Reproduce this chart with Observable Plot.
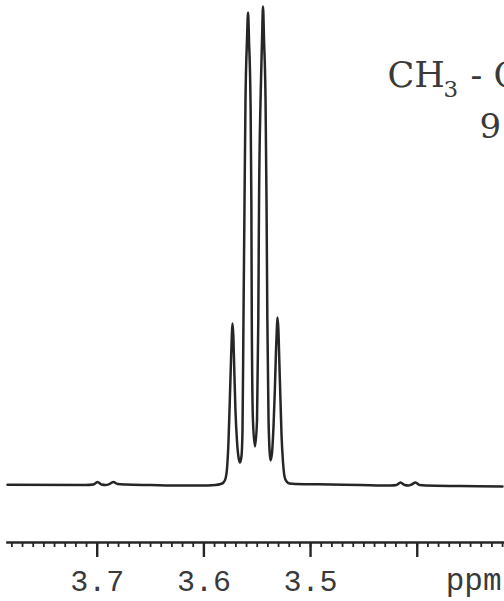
<!DOCTYPE html>
<html>
<head>
<meta charset="utf-8">
<script src="https://cdn.jsdelivr.net/npm/d3@7"></script>
<script src="https://cdn.jsdelivr.net/npm/@observablehq/plot@0.6"></script>
<style>
  html, body { margin: 0; padding: 0; background: #fff; }
  #chart svg { display: block; }
</style>
</head>
<body>
<div id="chart"></div>
<script>
// Chemical shift (ppm) and signal intensity (arbitrary units)
const ppm = [
  3.7841, 3.7110, 3.7035, 3.6997, 3.6960, 3.6922, 3.6885, 3.6847, 3.6810, 3.6735,
  3.6500, 3.6219, 3.6032, 3.5891, 3.5844, 3.5816, 3.5797, 3.5783, 3.5769, 3.5757,
  3.5746, 3.5738, 3.5732, 3.5724, 3.5715, 3.5704, 3.5690, 3.5675, 3.5661, 3.5647,
  3.5638, 3.5629, 3.5619, 3.5610, 3.5596, 3.5586, 3.5577, 3.5563, 3.5555, 3.5551,
  3.5540, 3.5521, 3.5502, 3.5490, 3.5483, 3.5469, 3.5455, 3.5446, 3.5436, 3.5422,
  3.5413, 3.5405, 3.5394, 3.5375, 3.5361, 3.5347, 3.5335, 3.5324, 3.5316, 3.5310,
  3.5302, 3.5293, 3.5282, 3.5272, 3.5258, 3.5244, 3.5225, 3.5197, 3.5141, 3.4813,
  3.4532, 3.4250, 3.4194, 3.4157, 3.4119, 3.4082, 3.4054, 3.4016, 3.3979, 3.3922,
  3.3594, 3.3201
];
const intensity = [
  -0.3, -0.5, 0, 2.5, 0, -0.5, 0.5, 2.5, 0.5, 0,
  -0.5, -1, -1, -0.5, 0.5, 2, 6, 16, 44, 84,
  124, 149, 161, 149, 114, 74, 44, 27, 22, 29,
  54, 164, 284, 384, 444, 472, 444, 384, 284, 164,
  64, 38, 64, 164, 284, 384, 444, 478, 444, 384,
  284, 164, 64, 24, 32, 59, 94, 134, 156, 167,
  156, 124, 84, 49, 22, 8, 3, 1, 0.5, 0,
  -0.5, -1, -0.5, 2, -0.5, -1, 0, 2, -0.5, -1,
  -1.5, -2
];
const majorTicks = [3.7, 3.6, 3.5, 3.4];
const majorLabels = ["3.7", "3.6", "3.5", ""];
const minorTicks = d3.range(332, 379).map(d => d / 100);
const unitLabel = ["ppm"];
const formulaMain = ["CH"];
const formulaSub = ["3"];
const formulaRest = ["- C"];
const formulaLine2 = ["9"];

const spectrum = ppm.map((p, i) => ({ppm: p, intensity: intensity[i]}));
const labelOf = new Map(majorTicks.map((t, i) => [t, majorLabels[i]]));

const ink = "#262626";
const textInk = "#3a3a3a";
const serif = "DejaVu Serif, Liberation Serif, serif";
const mono = "Liberation Mono, Courier New, monospace";

const chart = Plot.plot({
  width: 504,
  height: 601,
  marginLeft: 7,
  marginRight: 0,
  marginTop: 0,
  marginBottom: 59,
  style: {background: "#fff", color: ink},
  x: {domain: [3.7841, 3.3182], axis: null},
  y: {domain: [-58, 484], axis: null},
  marks: [
    Plot.frame({anchor: "bottom", stroke: ink, strokeWidth: 2.6}),
    Plot.axisX(minorTicks, {
      anchor: "bottom", tickSize: 5, strokeWidth: 1.8, stroke: ink,
      tickFormat: () => "", label: null
    }),
    Plot.axisX(majorTicks, {
      anchor: "bottom", tickSize: 15, tickPadding: 12, strokeWidth: 2.4, stroke: ink,
      tickFormat: d => labelOf.get(d), label: null,
      fontFamily: mono, fontSize: 30, fill: textInk
    }),
    Plot.text(unitLabel, {
      frameAnchor: "bottom-right", dx: -3, dy: 38, lineAnchor: "middle", textAnchor: "end",
      fontFamily: mono, fontSize: 31, fill: textInk
    }),
    Plot.line(spectrum, {
      x: "ppm", y: "intensity", curve: "monotone-x",
      stroke: ink, strokeWidth: 2.5, strokeLinejoin: "round"
    }),
    Plot.text(formulaMain, {
      frameAnchor: "top-left", dx: 380, dy: 86, lineAnchor: "bottom", textAnchor: "start",
      fontFamily: serif, fontSize: 35, fill: textInk
    }),
    Plot.text(formulaSub, {
      frameAnchor: "top-left", dx: 436, dy: 96, lineAnchor: "bottom", textAnchor: "start",
      fontFamily: serif, fontSize: 23, fill: textInk
    }),
    Plot.text(formulaRest, {
      frameAnchor: "top-left", dx: 463, dy: 86, lineAnchor: "bottom", textAnchor: "start",
      fontFamily: serif, fontSize: 35, fill: textInk
    }),
    Plot.text(formulaLine2, {
      frameAnchor: "top-left", dx: 472, dy: 137, lineAnchor: "bottom", textAnchor: "start",
      fontFamily: serif, fontSize: 34, fill: textInk
    })
  ]
});
document.getElementById("chart").appendChild(chart);
</script>
</body>
</html>
